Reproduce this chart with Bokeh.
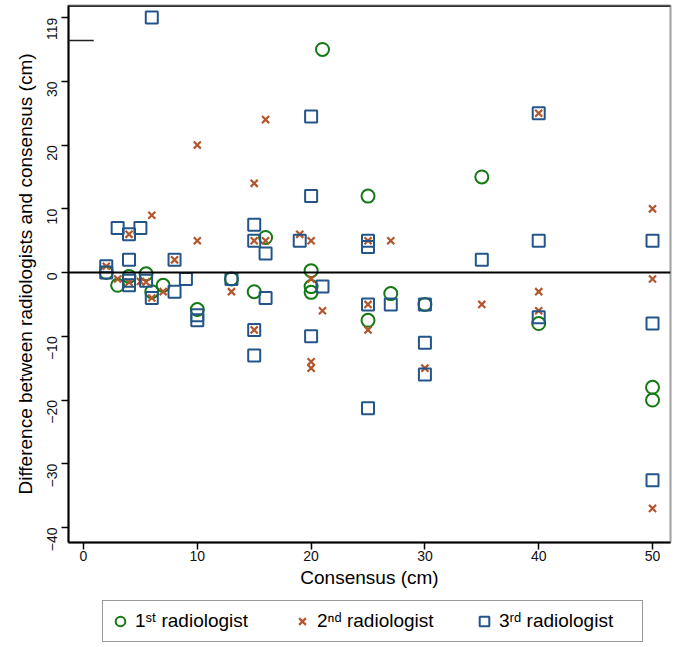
from bokeh.plotting import figure
from bokeh.layouts import column
from bokeh.models import Legend, LegendItem, Span, Arrow, Range1d, FixedTicker
from bokeh.embed import file_html
from bokeh.resources import INLINE

# ---- data (consensus cm, difference cm) ----
r1_x = [2, 3, 4, 5.5, 6, 7, 10, 13, 15, 16, 20, 20, 20, 21, 25, 25, 27, 30, 35, 40, 50, 50]
r1_y = [0, -2, -0.6, -0.2, -3, -2, -5.8, -1, -3, 5.5, 0.3, -2.2, -3.1, 35, 12, -7.5, -3.3, -5, 15, -8, -18, -20]

r2_x = [2, 3, 4, 4, 5, 5.5, 6, 6, 7, 8, 10, 10, 13, 15, 15, 15, 16, 16, 19, 20, 20, 20, 20, 21,
        25, 25, 25, 27, 30, 35, 40, 40, 40, 50, 50, 50]
r2_y = [1, -1, 6, -1.5, -1.4, -1.5, 9, -4, -3, 2, 20, 5, -3, 14, 5, -9, 24, 5, 6, 5, -1, -14, -15, -6,
        5, -5, -9, 5, -15, -5, 25, -3, -6, 10, -1, -37]

r3_x = [2, 2, 3, 4, 4, 4, 4, 5, 5.5, 6, 6, 8, 8, 9, 10, 10, 13, 15, 15, 15, 15, 16, 16, 19, 20, 20, 20, 21,
        25, 25, 25, 25, 27, 30, 30, 30, 35, 40, 40, 40, 50, 50, 50]
r3_y = [1, 0, 7, 6, 2, -1.3, -2, 7, -1.3, 119, -4, 2, -3, -1, -6.7, -7.5, -1, 7.5, 5, -9, -13, 3, -4, 5,
        24.5, 12, -10, -2.2, 5, 4, -5, -21.3, -5, -5, -11, -16, 2, 25, 5, -7, 5, -8, -32.6]

series_labels = ["1\u02e2\u1d57 radiologist", "2\u207f\u1d48 radiologist", "3\u02b3\u1d48 radiologist"]
x_ticks = [0, 10, 20, 30, 40, 50]
y_ticks = [-40, -30, -20, -10, 0, 10, 20, 30]
outlier_label = "119"

# ---- axis break settings (layout) ----
BREAK_AT = 36.4      # where the axis is broken
OUTLIER_POS = 40     # display position for values beyond the break
Y_TOP = 41.9


def disp(vals):
    return [OUTLIER_POS if v > BREAK_AT else v for v in vals]


GREEN = "#137a13"
ORANGE = "#b4562b"
BLUE = "#24558a"
FONT = "Liberation Sans"

STYLES = [dict(marker="circle", size=13, fill_color=None, line_color=GREEN, line_width=2),
          dict(marker="x", size=10, line_color=ORANGE, line_width=2.2),
          dict(marker="square", size=12, fill_color=None, line_color=BLUE, line_width=2)]

p = figure(frame_width=602, frame_height=537, min_border_left=68, min_border_right=4,
           min_border_top=5, min_border_bottom=56, title=None,
           x_range=Range1d(-1.318, 51.58), y_range=Range1d(-42.35, Y_TOP),
           output_backend="svg", toolbar_location=None)

p.background_fill_color = "white"
p.border_fill_color = "white"
p.xgrid.visible = False
p.ygrid.visible = False
p.outline_line_color = "#a0a0a0"
p.outline_line_width = 2

p.scatter(r1_x, disp(r1_y), **STYLES[0])
p.scatter(r2_x, disp(r2_y), **STYLES[1])
p.scatter(r3_x, disp(r3_y), **STYLES[2])

p.add_layout(Span(location=0, dimension="width", line_color="black", line_width=2))
p.add_layout(Span(location=Y_TOP, dimension="width", line_color="black", line_width=2.5))
p.add_layout(Arrow(start=None, end=None, x_start=-2.3, x_end=0.9, y_start=BREAK_AT, y_end=BREAK_AT,
                   line_color="#222222", line_width=1.5))

# axes
xa = p.xaxis[0]
xa.ticker = FixedTicker(ticks=x_ticks)
xa.axis_label = "Consensus (cm)"
ya = p.yaxis[0]
ya.ticker = FixedTicker(ticks=y_ticks + [OUTLIER_POS])
ya.major_label_overrides = {OUTLIER_POS: outlier_label}
ya.axis_label = "Difference between radiologists and consensus (cm)"
ya.major_label_orientation = 1.5708

for ax in (xa, ya):
    ax.axis_line_color = "black"
    ax.axis_line_width = 2
    ax.major_tick_line_color = "black"
    ax.major_tick_line_width = 1.5
    ax.major_tick_out = 7
    ax.major_tick_in = 0
    ax.minor_tick_line_color = None
    ax.major_label_text_font = FONT
    ax.major_label_text_font_size = "14px"
    ax.major_label_text_color = "#111111"
    ax.axis_label_text_font = FONT
    ax.axis_label_text_font_size = "19px"
    ax.axis_label_text_font_style = "normal"
    ax.axis_label_text_color = "black"

xa.major_label_standoff = 1
xa.axis_label_standoff = 3
ya.major_label_standoff = 9
ya.axis_label_standoff = 4

# ---- legend strip below (its frame is aligned with the main frame) ----
lg = figure(width=674, height=49, min_border=0, title=None, x_range=Range1d(0, 1), y_range=Range1d(0, 1),
            output_backend="svg", toolbar_location=None)
lg.axis.visible = False
lg.xgrid.visible = False
lg.ygrid.visible = False
lg.outline_line_color = None
lg.background_fill_color = "white"
lg.border_fill_color = "white"
nan = float("nan")
swatches = [lg.scatter([nan], [nan], **s) for s in STYLES]

legend = Legend(items=[LegendItem(label=lab, renderers=[r]) for lab, r in zip(series_labels, swatches)],
                orientation="horizontal", location=(34, 5),
                glyph_width=24, glyph_height=30, label_standoff=3, label_width=138,
                spacing=17, padding=5, margin=0,
                label_text_font=FONT, label_text_font_size="19px", label_text_color="black",
                border_line_color="#333333", border_line_width=1.5,
                background_fill_color="white", background_fill_alpha=1.0)
lg.add_layout(legend, "center")

layout = column(p, lg, spacing=0)
open("out.html", "w").write(file_html(layout, INLINE))
